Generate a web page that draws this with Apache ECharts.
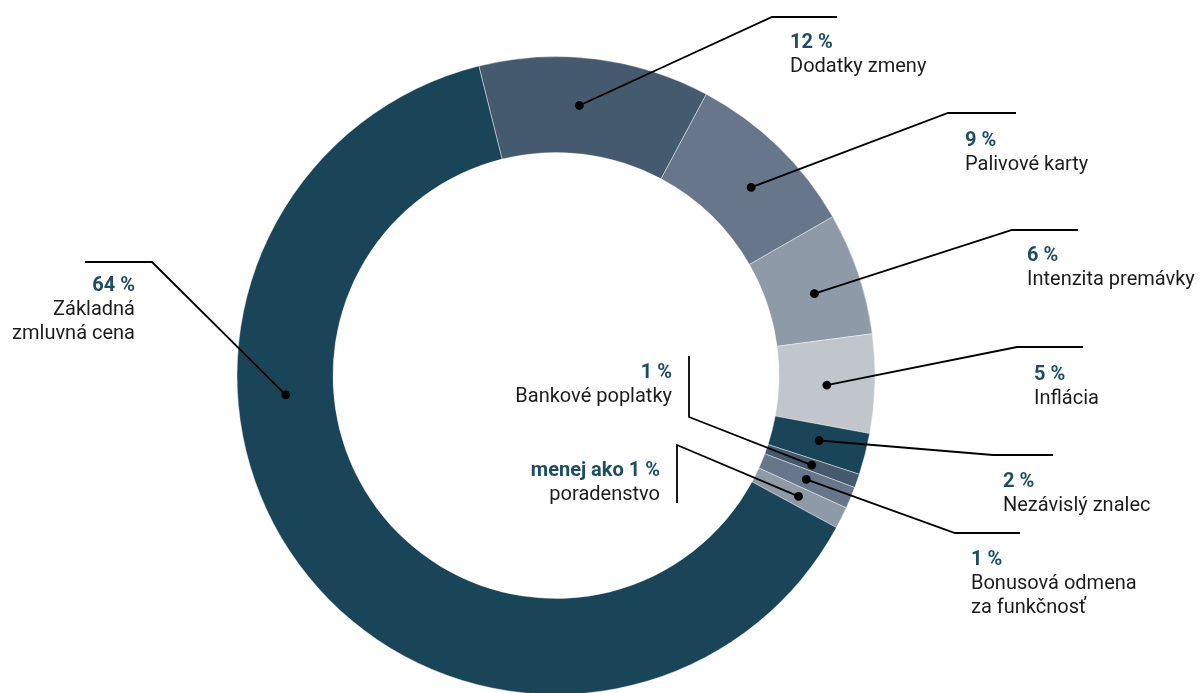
<!DOCTYPE html>
<html><head><meta charset="utf-8">
<script src="https://cdn.jsdelivr.net/npm/echarts@6/dist/echarts.min.js"></script>
<style>html,body{margin:0;padding:0;background:#fff}#c{width:1201px;height:693px}</style>
</head><body><div id="c"></div>
<script>
// ---- data ----
const categories = ['Dodatky zmeny','Palivové karty','Intenzita premávky','Inflácia','Nezávislý znalec','Bankové poplatky','Bonusová odmena za funkčnosť','poradenstvo','Základná zmluvná cena'];
const values = [11.7, 8.9, 6.2, 5.0, 2.1, 0.7, 1.1, 1.1, 63.2];
const percentLabels = ['12 %','9 %','6 %','5 %','2 %','1 %','1 %','menej ako 1 %','64 %'];
const nameLines = [['Dodatky zmeny'],['Palivové karty'],['Intenzita premávky'],['Inflácia'],['Nezávislý znalec'],['Bankové poplatky'],['Bonusová odmena','za funkčnosť'],['poradenstvo'],['Základná','zmluvná cena']];

// ---- styles / layout ----
const sliceColors = ['#455a6f','#67768a','#8e9aa7','#c0c6cc','#1a4559','#455a6f','#67768a','#8e9aa7','#1a4559'];
const CENTER = [556, 375.5], R_IN = 223, R_OUT = 319, START = 104;
const FONT = 'Roboto, "Noto Sans", sans-serif';
// anchor: where along the slice (0..1) the leader line starts
const labelPlacement = [
  {anchor:0.45, elbow:[772,17],  end:[837,17],  tx:790,  ty:47.5, align:'left'},
  {anchor:0.56, elbow:[948,113], end:[1016,113],tx:965,  ty:145,  align:'left'},
  {anchor:0.55, elbow:[1012,230],end:[1078,230],tx:1027, ty:260,  align:'left'},
  {anchor:0.53, elbow:[1017,347],end:[1083,347],tx:1034, ty:379,  align:'left'},
  {anchor:0.45, elbow:[993,455], end:[1053,455],tx:1003, ty:486,  align:'left'},
  {anchor:0.5,  elbow:[689,417], end:[689,356], tx:672,  ty:377,  align:'right'},
  {anchor:0.5,  elbow:[955,533], end:[1020,533],tx:971,  ty:564,  align:'left'},
  {anchor:0.5,  elbow:[677,445], end:[677,503], tx:660,  ty:475,  align:'right'},
  {anchor:0.648,elbow:[152,262], end:[85,262],  tx:135,  ty:290,  align:'right'}
];
const LINE_GAP = 24, BASE_SHIFT = 4.5;

const total = values.reduce((a,b)=>a+b,0);
let cum = 0;
const markerData = values.map((v,i)=>{ const pos = cum + v*labelPlacement[i].anchor; cum += v; return [0.5, pos, i]; });

const chart = echarts.init(document.getElementById('c'), null, {renderer:'canvas'});
chart.setOption({
  animation:false,
  backgroundColor:'#fff',
  polar:{center:CENTER, radius:[R_IN, R_OUT]},
  angleAxis:{type:'value', min:0, max:total, startAngle:START, clockwise:true, show:false},
  radiusAxis:{type:'value', min:0, max:1, show:false},
  series:[
    {
      type:'pie', center:CENTER, radius:[R_IN, R_OUT], startAngle:START, clockwise:true,
      silent:true, label:{show:false}, labelLine:{show:false}, emphasis:{disabled:true},
      itemStyle:{borderColor:'rgba(255,255,255,0.7)', borderWidth:0.6},
      data: categories.map((c,i)=>({name:c, value:values[i], itemStyle:{color:sliceColors[i]}}))
    },
    {
      type:'custom', coordinateSystem:'polar', silent:true, z:10,
      data: markerData,
      renderItem:function(params, api){
        const i = api.value(2);
        const p = api.coord([api.value(0), api.value(1)]);
        const L = labelPlacement[i];
        const children = [
          {type:'polyline', shape:{points:[p, L.elbow, L.end]}, style:{stroke:'#000', lineWidth:1.8, fill:null}},
          {type:'circle', shape:{cx:p[0], cy:p[1], r:4.4}, style:{fill:'#000'}},
          {type:'text', style:{text:percentLabels[i], x:L.tx, y:L.ty-BASE_SHIFT, align:L.align, verticalAlign:'middle',
            font:'bold 20px ' + FONT, fill:'#1e4d63'}}
        ];
        nameLines[i].forEach((t,k)=>{
          children.push({type:'text', style:{text:t, x:L.tx, y:L.ty + LINE_GAP*(k+1) - BASE_SHIFT, align:L.align, verticalAlign:'middle',
            font:'20px ' + FONT, fill:'#1c1c1c'}});
        });
        return {type:'group', children};
      }
    }
  ]
});
</script>
</body></html>
